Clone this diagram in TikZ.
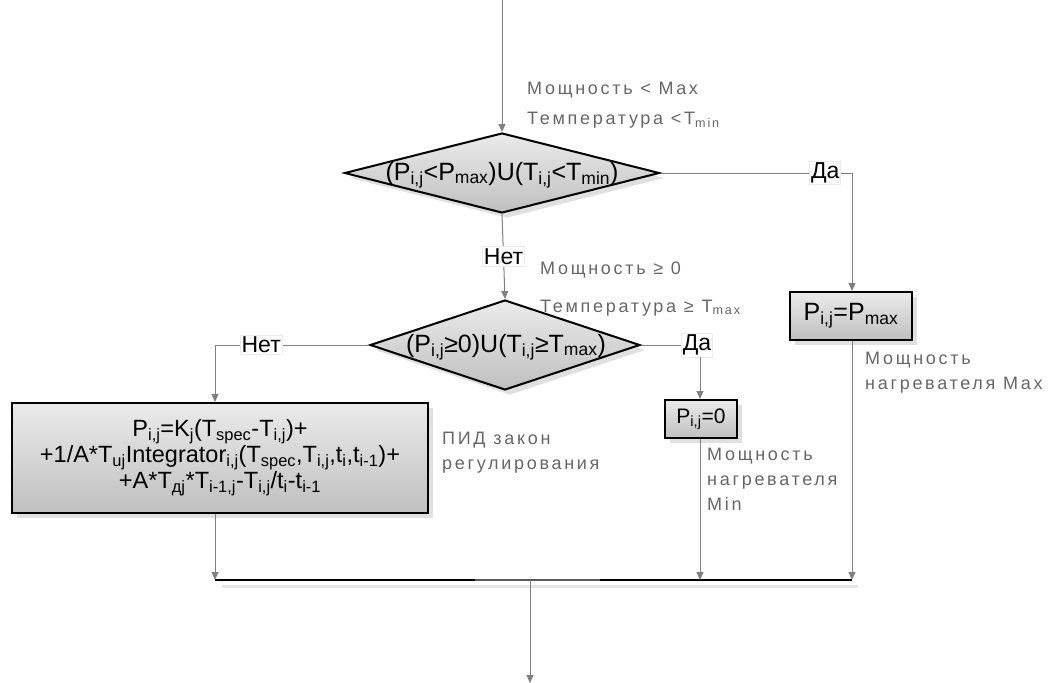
\documentclass[tikz,border=0pt]{standalone}
\usepackage{fontspec}
\setmainfont{Liberation Sans}
\newfontfamily\labfont[LetterSpace=15]{Liberation Sans}
\usetikzlibrary{arrows.meta,shapes.geometric,shadows}
\newcommand{\sbs}[1]{\textsubscript{#1}}
\begin{document}
\begin{tikzpicture}[x=1pt,y=-1pt,
  conn/.style={draw=black!50, line width=1pt, -{Triangle[length=8pt,width=7pt]}},
  line/.style={draw=black!50, line width=1pt},
  shadowed/.style={general shadow={shadow xshift=5pt, shadow yshift=-5pt, fill=black!12}},
  decision/.style={diamond, draw=black, line width=2pt, top color=black!8, bottom color=black!25, inner sep=0pt, shadowed},
  procbox/.style={rectangle, draw=black, line width=2pt, top color=black!8, bottom color=black!25, inner sep=2pt, shadowed, align=center},
  btxt/.style={font=\fontsize{25}{28}\selectfont, inner sep=0pt},
  yesno/.style={fill=white, draw=black!8, inner sep=1.5pt, font=\fontsize{23}{25}\selectfont},
  lab/.style={text=black!60, anchor=west, inner sep=0pt, align=left, font=\labfont\fontsize{18}{25}\selectfont},
]
\useasboundingbox (0,0) rectangle (1053,683);

% nodes
\coordinate (start) at (502,0);
\node[decision, minimum width=315pt, minimum height=80pt] (d1) at (502,173) {};
\node[btxt] (d1t) at (502,175) {(P\sbs{i,j}<P\sbs{max})U(T\sbs{i,j}<T\sbs{min})};
\node[decision, minimum width=270pt, minimum height=90pt] (d2) at (505,345) {};
\node[btxt] (d2t) at (506,347) {(P\sbs{i,j}≥0)U(T\sbs{i,j}≥T\sbs{max})};
\node[procbox, minimum width=122pt, minimum height=48pt, font=\fontsize{25}{28}\selectfont] (pmax) at (851,316) {P\sbs{i,j}=P\sbs{max}};
\node[procbox, minimum width=72pt, minimum height=38pt, font=\fontsize{21}{24}\selectfont] (p0) at (701,419) {P\sbs{i,j}=0};
\node[procbox, minimum width=416pt, minimum height=110pt, font=\fontsize{23.5}{26}\selectfont] (pid) at (220,458)
  {P\sbs{i,j}=K\sbs{j}(T\sbs{spec}-T\sbs{i,j})+\\
   +1/A*T\sbs{uj}Integrator\sbs{i,j}(T\sbs{spec},T\sbs{i,j},t\sbs{i},t\sbs{i-1})+\\
   +A*T\sbs{дj}*T\sbs{i-1,j}-T\sbs{i,j}/t\sbs{i}-t\sbs{i-1}};

% junction bar
\coordinate (barL) at (215,580);
\coordinate (barR) at (852,580);
\coordinate (barM1) at (475,580);
\coordinate (barM2) at (600,580);
\coordinate (end) at (530,683);
\fill[black!10] (222,585) rectangle (858,588);
\draw[black, line width=2.5pt] (barL) -- (barM1);
\draw[black!65, line width=2.5pt] (barM1) -- (barM2);
\draw[black, line width=2.5pt] (barM2) -- (barR);

% corner coordinates
\coordinate (c1) at (852,173);
\coordinate (c2) at (215,345);
\coordinate (c3) at (700,345);

% connectors
\draw[conn] (start) -- (d1.north);
\draw[conn] (d1.south) -- node[yesno] {Нет} (d2.north);
\draw[line] (d1.east) -- node[yesno, pos=0.86] {Да} (c1);
\draw[conn] (c1) -- (pmax.north -| c1);
\draw[line] (d2.west) -- node[yesno, pos=0.7] {Нет} (c2);
\draw[conn] (c2) -- (pid.north -| c2);
\draw[line] (d2.east) -- (c3);
\node[yesno] (da2) at (697,345) {Да};
\draw[conn] (da2.south -| c3) -- (p0.north -| c3);
\draw[conn] (pid.south -| barL) -- (barL);
\draw[conn] (p0.south -| c3) -- (c3 |- barL);
\draw[conn] (pmax.south -| c1) -- (barR);
\draw[conn] (530,580) -- (end);

% labels
\node[lab] (l1) at (527,90) {Мощность < Max};
\node[lab] (l2) at (527,120) {Температура <T\sbs{min}};
\node[lab] (l3) at (540,270) {Мощность ≥ 0};
\node[lab] (l4) at (540,308) {Температура ≥ T\sbs{max}};
\node[lab] (l5) at (442,453) {ПИД закон\\регулирования};
\node[lab] (l6) at (707,479) {Мощность\\нагревателя\\Min};
\node[lab] (l7) at (865,373) {Мощность\\нагревателя Max};
\end{tikzpicture}
\end{document}
